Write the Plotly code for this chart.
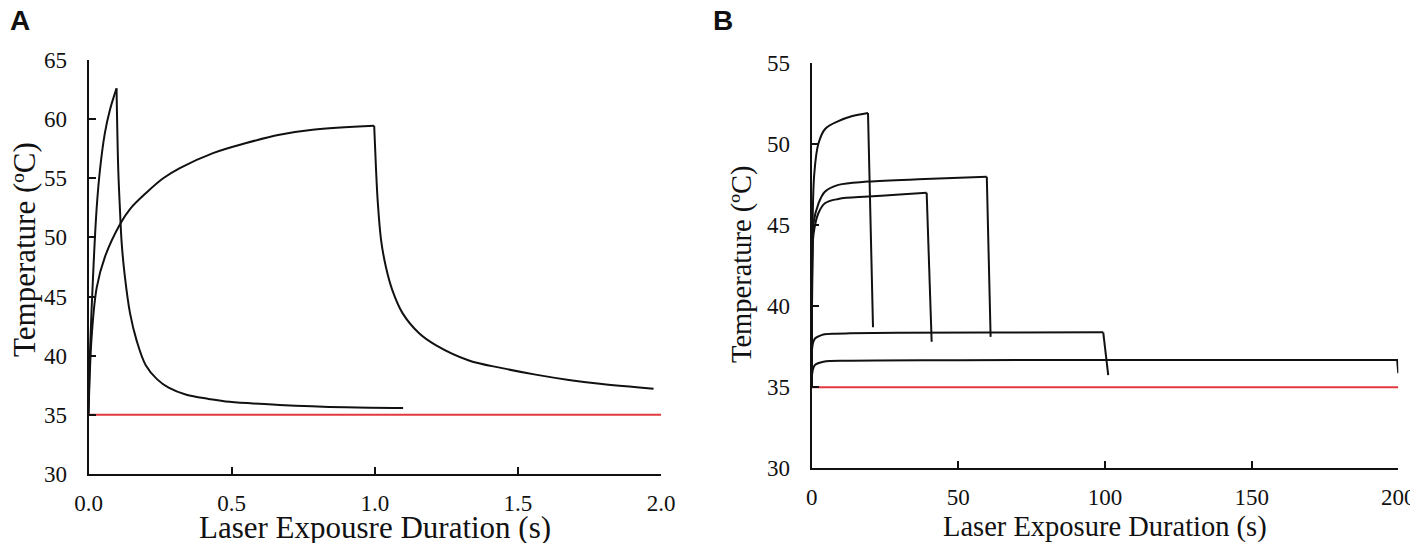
import plotly.graph_objects as go
from plotly.subplots import make_subplots

# Panel A: short exposures (s) and temperature (deg C)
a_short_t = [0, 0.005, 0.017, 0.028, 0.04, 0.057, 0.075, 0.098, 0.104, 0.11, 0.116, 0.127,
             0.145, 0.168, 0.2, 0.24, 0.28, 0.342, 0.42, 0.493, 0.667, 0.9, 1.099]
a_short_temp = [35, 40.2, 47.3, 52.3, 55.7, 58.8, 60.8, 62.6, 55.7, 52.3, 49.5, 46.7,
                43.6, 41.3, 39.2, 38.0, 37.3, 36.7, 36.35, 36.1, 35.84, 35.64, 35.58]

a_long_t = [0, 0.011, 0.029, 0.058, 0.112, 0.145, 0.203, 0.261, 0.319, 0.435, 0.551, 0.667,
            0.783, 0.998, 1.004, 1.01, 1.022, 1.039, 1.062, 1.097, 1.155, 1.213, 1.329,
            1.445, 1.562, 1.678, 1.794, 1.974]
a_long_temp = [35, 41.6, 45.8, 48.4, 51.2, 52.4, 53.8, 55.0, 55.86, 57.13, 57.98, 58.68,
               59.1, 59.44, 56.0, 53.2, 49.8, 47.5, 45.5, 43.6, 41.9, 40.9, 39.6,
               38.95, 38.4, 37.95, 37.6, 37.2]

a_base_t = [0, 2.0]
a_base_temp = [35, 35]

# Panel B: longer exposures
b_20_t = [0, 0.3, 0.9, 2.27, 4.5, 9.1, 13.6, 19.2, 20.9]
b_20_temp = [35, 45.0, 48.2, 50.0, 50.9, 51.4, 51.7, 51.9, 38.7]

b_60_t = [0, 0.3, 0.6, 2.27, 4.5, 9.1, 19.3, 38.6, 59.7, 61.0]
b_60_temp = [35, 43.5, 45.1, 46.3, 47.05, 47.47, 47.67, 47.83, 47.97, 38.1]

b_40_t = [0, 0.3, 0.6, 2.27, 4.5, 9.1, 19.3, 30, 39.2, 40.9]
b_40_temp = [35, 43.2, 44.4, 45.72, 46.34, 46.6, 46.75, 46.88, 46.98, 37.8]

b_100_t = [0, 0.3, 1.1, 2.5, 4, 8, 13, 30, 60, 99.4, 101.1]
b_100_temp = [35, 37.6, 38.0, 38.15, 38.25, 38.3, 38.32, 38.35, 38.37, 38.38, 35.75]

b_200_t = [0, 0.3, 1.1, 4, 13, 50, 100, 150, 199.6, 200]
b_200_temp = [35, 36.0, 36.37, 36.57, 36.63, 36.66, 36.68, 36.68, 36.68, 35.86]

b_base_t = [0, 200]
b_base_temp = [35, 35]

# page body has an 8px margin, so the figure is drawn 8px in from the corner
OFF = 8
W, H = 1418 - 2 * OFF, 551 - 2 * OFF
BLACK = "#111111"
RED = "#e2383f"
SERIF = "Liberation Serif"
TICKFONT = dict(family=SERIF, size=23, color=BLACK)


def px(x):
    return (x - OFF) / W


def py(y):
    return 1 - (y - OFF) / H


fig = make_subplots(rows=1, cols=2)


def add_curve(t, temp, col, smooth_tail):
    # split at the peak so the spline does not round off the sharp turn
    k = temp.index(max(temp))
    fig.add_trace(go.Scatter(x=t[:k + 1], y=temp[:k + 1], mode="lines",
                             line=dict(color=BLACK, width=2, shape="spline", smoothing=1)),
                  row=1, col=col)
    fig.add_trace(go.Scatter(x=t[k:], y=temp[k:], mode="lines",
                             line=dict(color=BLACK, width=2,
                                       shape="spline" if smooth_tail else "linear", smoothing=1)),
                  row=1, col=col)


add_curve(a_short_t, a_short_temp, 1, True)
add_curve(a_long_t, a_long_temp, 1, True)
fig.add_trace(go.Scatter(x=a_base_t, y=a_base_temp, mode="lines", line=dict(color=RED, width=2)), row=1, col=1)

for t, temp in [(b_20_t, b_20_temp), (b_60_t, b_60_temp), (b_40_t, b_40_temp),
                (b_100_t, b_100_temp), (b_200_t, b_200_temp)]:
    add_curve(t, temp, 2, False)
fig.add_trace(go.Scatter(x=b_base_t, y=b_base_temp, mode="lines", line=dict(color=RED, width=2)), row=1, col=2)

axis_style = dict(showline=True, linecolor=BLACK, linewidth=2, ticks="inside", ticklen=7,
                  tickwidth=2, tickcolor=BLACK, showgrid=False, zeroline=False,
                  tickfont=TICKFONT, automargin=False, ticklabeloverflow="allow")

fig.update_xaxes(axis_style)
fig.update_yaxes(axis_style)

fig.update_layout(
    font=dict(family=SERIF, color=BLACK),
    xaxis=dict(domain=[px(88.5), px(661)], range=[0, 2.0], tickvals=[0, 0.5, 1.0, 1.5, 2.0],
               tickformat=".1f", ticklabelstandoff=7),
    yaxis=dict(domain=[py(474), py(60)], range=[30, 65], dtick=5, ticklabelstandoff=15),
    xaxis2=dict(domain=[px(811.7), px(1398.3)], range=[0, 200], tickvals=[0, 50, 100, 150, 200],
                ticklabelstandoff=7),
    yaxis2=dict(domain=[py(468.3), py(62.7)], range=[30, 55], dtick=5, ticklabelstandoff=15),
)


def ann(text, x, y, size, angle=0, bold=False, family=SERIF, xanchor="center"):
    fig.add_annotation(text="<b>%s</b>" % text if bold else text, x=px(x), y=py(y),
                       xref="paper", yref="paper", showarrow=False, textangle=angle,
                       xanchor=xanchor, yanchor="middle",
                       font=dict(family=family, size=size, color=BLACK))


ann("A", OFF, 21, 28, bold=True, family="Liberation Sans", xanchor="left")
ann("B", 711, 21, 28, bold=True, family="Liberation Sans", xanchor="left")
ann("Temperature (ºC)", 24, 250, 31, angle=-90)
ann("Temperature (ºC)", 742, 264, 28.5, angle=-90)
ann("Laser Expousre Duration (s)", 375, 527, 31)
ann("Laser Exposure Duration (s)", 1105, 527, 28.5)

fig.update_layout(width=W, height=H, margin=dict(l=0, r=0, t=0, b=0), showlegend=False,
                  plot_bgcolor="white", paper_bgcolor="white")

fig.write_html("out.html")
